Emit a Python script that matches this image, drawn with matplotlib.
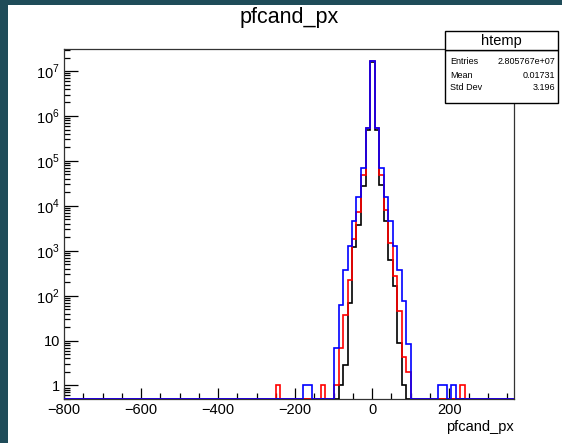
import numpy as np
import matplotlib.pyplot as plt
from matplotlib.patches import Rectangle
from matplotlib.ticker import FixedLocator, MultipleLocator, LogLocator, NullFormatter

plt.rcParams['font.family'] = ['Liberation Sans', 'DejaVu Sans']
plt.rcParams['mathtext.fontset'] = 'custom'
plt.rcParams['mathtext.rm'] = 'Liberation Sans'

# histogram binning (ROOT htemp, 100 bins)
x_min, x_max, n_bins = -800.0, 368.0, 100

# non-empty bins: bin index -> content
black_idx = [61, 62, 63, 64, 65, 66, 67, 68, 69, 70, 71, 72, 73, 74, 75]
black_cnt = [1, 2.9, 68, 1240, 3800, 2.8e4, 4.9e5, 1.62e7, 4.9e5, 2.9e4, 4500, 630, 160, 8.9, 1]

red_idx = [47, 57, 60, 61, 62, 63, 64, 65, 66, 67, 68, 69, 70, 71, 72, 73, 74, 75, 76, 88]
red_cnt = [1, 1, 1, 6.9, 38, 226, 1800, 7400, 4.9e4, 5.3e5, 1.64e7, 5.3e5, 4.9e4, 8000, 1500, 270, 45, 4.2, 2, 1]

blue_idx = [53, 54, 60, 61, 62, 63, 64, 65, 66, 67, 68, 69, 70, 71, 72, 73, 74, 75, 76, 83, 84, 86]
blue_cnt = [1, 1, 6.9, 63, 377, 1250, 4500, 1.55e4, 6.9e4, 5.3e5, 1.66e7, 5.3e5, 6.9e4, 1.6e4, 4500, 1250, 377, 75, 8.2, 1, 1, 1]

y_min, y_max = 0.5, 3.1e7

stat_names = ['Entries', 'Mean', 'Std Dev']
stat_values = ['2.805767e+07', '0.01731', '3.196']


def fill(idx, cnt):
    vals = np.zeros(n_bins)
    vals[idx] = cnt
    return np.where(vals > 0, vals, y_min)


edges = np.linspace(x_min, x_max, n_bins + 1)

fig = plt.figure(figsize=(5.62, 4.43), dpi=100, facecolor='#1f4c59')
fig.patches.append(Rectangle((8 / 562, 0), 1, 1 - 5 / 443, transform=fig.transFigure,
                             facecolor='white', edgecolor='none', zorder=-10))

ax = fig.add_axes([64 / 562, 1 - 399 / 443, 450 / 562, 350 / 443])
ax.stairs(fill(black_idx, black_cnt), edges, baseline=y_min, color='black', lw=1.2, zorder=3)
ax.stairs(fill(red_idx, red_cnt), edges, baseline=y_min, color='#ff0000', lw=1.2, zorder=3)
ax.stairs(fill(blue_idx, blue_cnt), edges, baseline=y_min, color='#0000ff', lw=1.2, zorder=3)

ax.set_xlim(x_min, x_max)
ax.set_yscale('log')
ax.set_ylim(y_min, y_max)

ax.xaxis.set_minor_locator(MultipleLocator(50))
ax.set_xticks([-800, -600, -400, -200, 0, 200])
ax.set_xticklabels(['\u2212800', '\u2212600', '\u2212400', '\u2212200', '0', '200'])

dec = [1, 10, 1e2, 1e3, 1e4, 1e5, 1e6, 1e7]
ax.yaxis.set_major_locator(FixedLocator(dec))
ax.set_yticklabels(['1', '10'] + [r'$10^{%d}$' % k for k in range(2, 8)])
ax.yaxis.set_minor_locator(LogLocator(base=10, subs=np.arange(2, 10), numticks=20))
ax.yaxis.set_minor_formatter(NullFormatter())

ax.tick_params(axis='both', which='both', direction='in', labelsize=10.5, width=0.9,
               colors='black', top=False, right=False)
ax.tick_params(axis='x', which='major', length=8, pad=3)
ax.tick_params(axis='x', which='minor', length=4.3)
ax.tick_params(axis='y', which='major', length=10, pad=3)
ax.tick_params(axis='y', which='minor', length=4.3)
for s in ax.spines.values():
    s.set_linewidth(0.9)
    s.set_color('#333333')

ax.set_xlabel('pfcand_px', fontsize=10.5)
ax.xaxis.set_label_coords(1.0, -0.06)
ax.xaxis.label.set_horizontalalignment('right')

fig.text(289 / 562, 1 - 18 / 443, 'pfcand_px', ha='center', va='center', fontsize=15.5)

# stats box
bx0, bx1 = 445 / 562, 558 / 562
fig.patches.append(Rectangle((bx0, 1 - 103 / 443), bx1 - bx0, 53 / 443, transform=fig.transFigure,
                             facecolor='white', edgecolor='black', lw=1.0, zorder=5))
fig.patches.append(Rectangle((bx0, 1 - 50 / 443), bx1 - bx0, 19 / 443, transform=fig.transFigure,
                             facecolor='white', edgecolor='black', lw=1.0, zorder=5))
fig.text((bx0 + bx1) / 2, 1 - 40.5 / 443, 'htemp', ha='center', va='center', fontsize=10.5, zorder=6)
for i, (n, v) in enumerate(zip(stat_names, stat_values)):
    yy = 1 - (62 + 13 * i) / 443
    fig.text(450 / 562, yy, n, ha='left', va='center', fontsize=6.5, zorder=6)
    fig.text(555 / 562, yy, v, ha='right', va='center', fontsize=6.5, zorder=6)

fig.savefig('out.png', dpi=100, facecolor=fig.get_facecolor())
